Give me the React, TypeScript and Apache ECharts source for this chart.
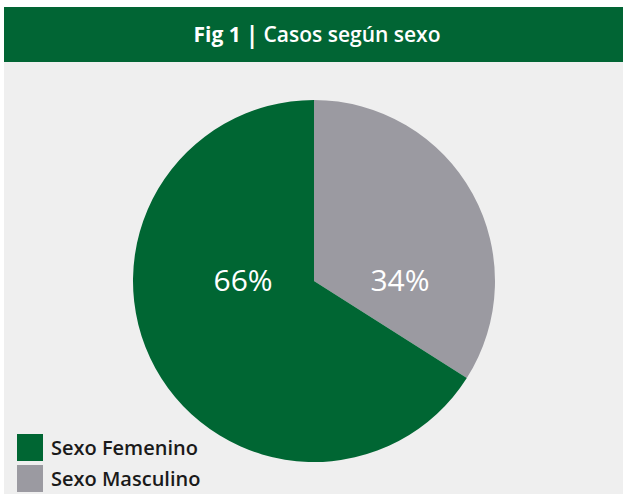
import React, { useEffect, useRef } from "react";
import * as echarts from "echarts";

const titleBold = "Fig 1";
const titleRest = "Casos según sexo";
const categories = ["Sexo Masculino", "Sexo Femenino"];
const values = [34, 66];
const colors = ["#9b9aa1", "#006633"];
const legendOrder = ["Sexo Femenino", "Sexo Masculino"];

export default function App() {
  const ref = useRef<HTMLDivElement>(null);
  useEffect(() => {
    document.body.style.margin = "0";
    const chart = echarts.init(ref.current!, null, { renderer: "svg" });
    const labelOffsets: Record<string, number[]> = {
      "Sexo Masculino": [4, 44],
      "Sexo Femenino": [11, -47],
    };
    const legendBase = {
      orient: "vertical",
      left: 12,
      icon: "rect",
      itemWidth: 26,
      itemHeight: 27,
      textStyle: { fontFamily: "Open Sans", fontWeight: 600, fontSize: 20, color: "#1a1a1a", padding: [0, 0, 0, 3] },
    };
    chart.setOption({
      animation: false,
      backgroundColor: "#ffffff",
      graphic: [
        { type: "rect", shape: { x: 4, y: 7, width: 619, height: 487 }, style: { fill: "#efefef" }, z: -10 },
        { type: "rect", shape: { x: 4, y: 7, width: 619, height: 55 }, style: { fill: "#016534" }, z: -9 },
      ],
      title: {
        text: `{b|${titleBold}} {s||} {r|${titleRest}}`,
        left: 312,
        top: 17,
        textAlign: "center",
        textStyle: {
          rich: {
            b: { fontFamily: "Open Sans", fontWeight: "bold", fontSize: 21, color: "#fff" },
            s: { fontFamily: "Open Sans", fontSize: 23, color: "#fff" },
            r: { fontFamily: "Open Sans", fontWeight: 600, fontSize: 21, color: "#fff" },
          },
        },
      },
      legend: [
        { ...legendBase, data: [legendOrder[0]], top: 429 },
        { ...legendBase, data: [legendOrder[1]], top: 460 },
      ],
      series: [
        {
          type: "pie",
          center: [314, 281],
          radius: [0, 181],
          startAngle: 90,
          clockwise: true,
          silent: true,
          color: colors,
          label: {
            show: true,
            position: "inside",
            formatter: "{c}%",
            color: "#ffffff",
            fontFamily: "Open Sans",
            fontSize: 30,
          },
          labelLine: { show: false },
          data: categories.map((name, i) => ({
            name,
            value: values[i],
            label: { offset: labelOffsets[name] },
          })),
        },
      ],
    });
    return () => chart.dispose();
  }, []);
  return <div ref={ref} style={{ position: "absolute", left: 0, top: 0, width: 623, height: 494 }} />;
}
